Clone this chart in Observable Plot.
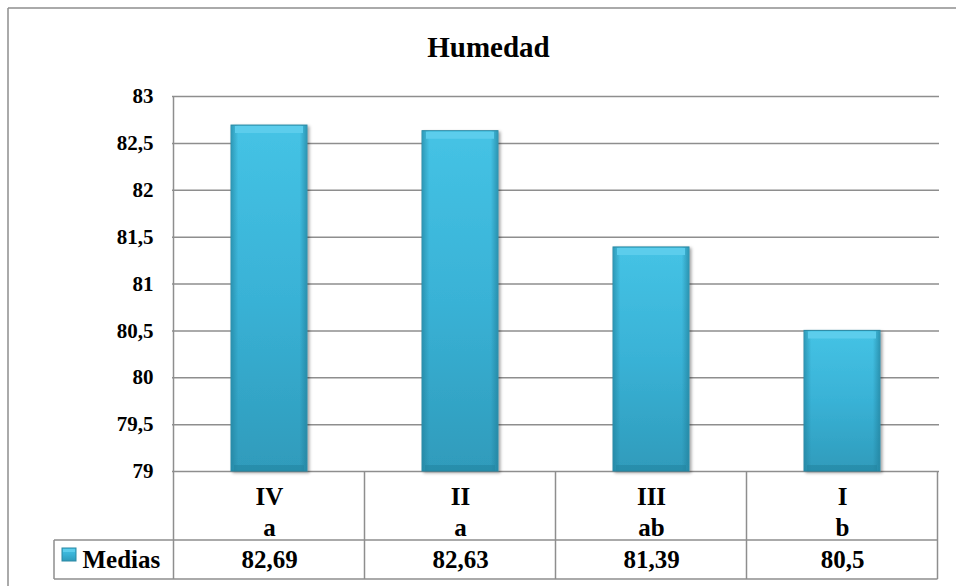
<!DOCTYPE html>
<html>
<head>
<meta charset="utf-8">
<script src="https://cdn.jsdelivr.net/npm/d3@7"></script>
<script src="https://cdn.jsdelivr.net/npm/@observablehq/plot@0.6"></script>
<style>
  html, body { margin: 0; padding: 0; background: #fff; overflow: hidden; }
  #chart svg { display: block; }
</style>
</head>
<body>
<div id="chart"></div>
<script>
// Humidity means per treatment, with significance groups
const categories = ["IV", "II", "III", "I"];
const groups = ["a", "a", "ab", "b"];
const medias = [82.69, 82.63, 81.39, 80.5];
const yTicks = [79, 79.5, 80, 80.5, 81, 81.5, 82, 82.5, 83];
const title = "Humedad";
const seriesName = "Medias";

const comma = v => String(v).replace(".", ",");
const rows = categories.map((c, i) => ({cat: c, group: groups[i], value: medias[i]}));
const serif = "Liberation Serif";
const lineColor = "#8e8e8e";

const tableTop = 471;     // bottom of the plot frame
const rowSplit = 540;     // between group labels and values
const tableBottom = 579;
const legendLeft = 54;

const txt = {fontFamily: serif, fontWeight: "bold", fill: "#000"};

const plot = Plot.plot({
  width: 956,
  height: 586,
  marginLeft: 172,
  marginRight: 17,
  marginTop: 96,
  marginBottom: 115,
  style: {background: "#fff", color: "#000", fontFamily: serif},
  x: {domain: categories, paddingInner: 0.6, paddingOuter: 0.3, axis: null},
  y: {domain: [79, 83], axis: null},
  marks: [
    Plot.ruleY(yTicks, {stroke: lineColor, strokeWidth: 1.5}),
    Plot.axisY({
      ticks: yTicks, tickSize: 0, tickPadding: 19, tickFormat: comma, label: null,
      fontSize: 21, ...txt
    }),
    // bar body
    Plot.barY(rows, {x: "cat", y1: 79, y2: "value", fill: "url(#barFill)", stroke: "#2b88a3", strokeWidth: 1}),
    // darker side edges
    Plot.barY(rows, {x: "cat", y1: 79, y2: "value", fill: "url(#barSides)", insetLeft: 0.5, insetRight: 0.5}),
    // top bevel highlight and bottom shade
    Plot.tickY(rows, {x: "cat", y: "value", stroke: "#5ccdec", strokeWidth: 7, dy: 4, insetLeft: 4, insetRight: 4}),
    Plot.tickY(rows, {x: "cat", y: () => 79, stroke: "#23849f", strokeOpacity: 0.55, strokeWidth: 6, dy: -3.5, insetLeft: 3, insetRight: 3}),
    // title
    Plot.text([title], {
      frameAnchor: "top-left", dx: 316, dy: -40, lineAnchor: "bottom", textAnchor: "middle",
      fontSize: 29, ...txt
    }),
    // data table: treatment and group
    Plot.text(rows, {
      x: "cat", text: d => d.cat + "\n" + d.group, frameAnchor: "bottom", dy: 11,
      lineAnchor: "top", lineHeight: 1.24, fontSize: 25, ...txt
    }),
    // data table: values
    Plot.text(rows, {
      x: "cat", text: d => comma(d.value), frameAnchor: "bottom", dy: 79,
      lineAnchor: "top", fontSize: 25, ...txt
    }),
    // series name in the legend cell
    Plot.text([seriesName], {
      frameAnchor: "bottom-left", dx: -90, dy: 79, textAnchor: "start",
      lineAnchor: "top", fontSize: 25, ...txt
    })
  ]
});

const svg = d3.select(plot);
svg.selectAll("text").style("font-family", "'Liberation Serif', 'Times New Roman', serif");

// gradients and shadow
const defs = svg.insert("defs", ":first-child");
function grad(id, vertical, stops) {
  const lg = defs.append("linearGradient").attr("id", id)
    .attr("x1", 0).attr("y1", 0).attr("x2", vertical ? 0 : 1).attr("y2", vertical ? 1 : 0);
  stops.forEach(([o, c, a]) => lg.append("stop").attr("offset", o).attr("stop-color", c).attr("stop-opacity", a ?? 1));
}
grad("barFill", true, [["0%", "#45c3e5"], ["50%", "#39b2d6"], ["100%", "#2f9bbb"]]);
grad("barSides", false, [["0%", "#1f7d98", 0.55], ["9%", "#1f7d98", 0], ["91%", "#1f7d98", 0], ["100%", "#1f7d98", 0.6]]);
const shadow = defs.append("filter").attr("id", "barShadow")
  .attr("x", "-10%").attr("y", "-5%").attr("width", "130%").attr("height", "115%");
shadow.append("feDropShadow").attr("dx", 2).attr("dy", 1.5).attr("stdDeviation", 1.8)
  .attr("flood-color", "#000").attr("flood-opacity", 0.35);
svg.select('g[aria-label="bar"]').attr("filter", "url(#barShadow)");

// table grid and frame lines, aligned with the band scale
const xs = plot.scale("x");
const step = xs.step, bw = xs.bandwidth;
const edges = categories.map(c => xs.apply(c) - (step - bw) / 2);
edges.push(edges[edges.length - 1] + step);
const right = edges[edges.length - 1];
const g = svg.append("g").attr("stroke", lineColor).attr("stroke-width", 1.5).attr("fill", "none");
g.append("line").attr("x1", edges[0]).attr("x2", edges[0]).attr("y1", 96).attr("y2", tableBottom);
edges.slice(1).forEach(x => g.append("line").attr("x1", x).attr("x2", x).attr("y1", tableTop).attr("y2", tableBottom));
[rowSplit, tableBottom].forEach(y => g.append("line").attr("x1", legendLeft).attr("x2", right).attr("y1", y).attr("y2", y));
g.append("line").attr("x1", legendLeft).attr("x2", legendLeft).attr("y1", rowSplit).attr("y2", tableBottom);
// outer chart border
g.append("line").attr("x1", 8).attr("x2", 956).attr("y1", 8).attr("y2", 8);
g.append("line").attr("x1", 8).attr("x2", 8).attr("y1", 8).attr("y2", 586);

// legend swatch
const sw = svg.append("g");
sw.append("rect").attr("x", 62).attr("y", 548).attr("width", 14).attr("height", 13)
  .attr("fill", "url(#barFill)").attr("stroke", "#2b88a3").attr("stroke-width", 1);
sw.append("rect").attr("x", 63).attr("y", 549).attr("width", 12).attr("height", 3).attr("fill", "#5ccdec");

document.getElementById("chart").appendChild(plot);
</script>
</body>
</html>
